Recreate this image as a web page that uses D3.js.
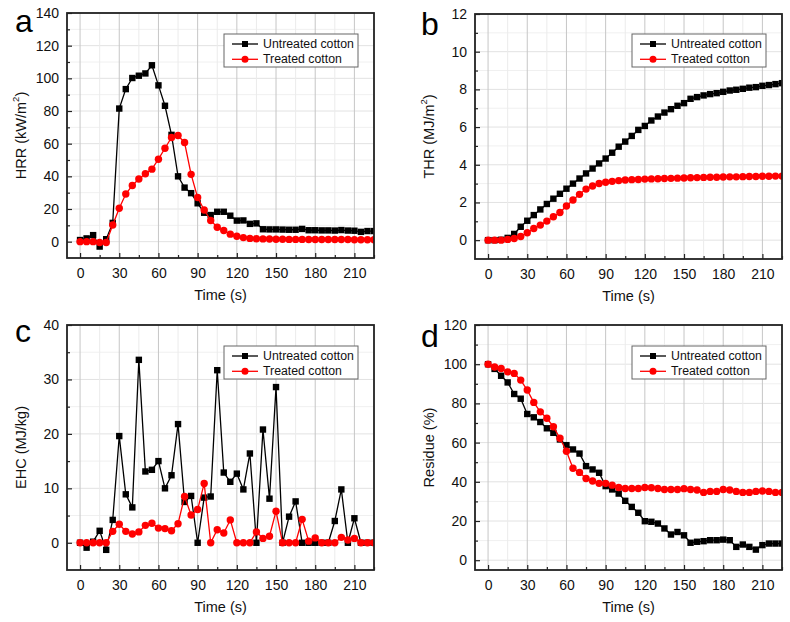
<!DOCTYPE html>
<html><head><meta charset="utf-8">
<script src="https://cdn.jsdelivr.net/npm/d3@7"></script>
<style>body{margin:0;background:#fff}svg{display:block;font-family:"Liberation Sans",Arial,sans-serif}</style>
</head><body><svg id="c" width="790" height="622"></svg>
<script>
const time = [0,5,10,15,20,25,30,35,40,45,50,55,60,65,70,75,80,85,90,95,100,105,110,115,120,125,130,135,140,145,150,155,160,165,170,175,180,185,190,195,200,205,210,215,220,225];
const seriesNames = ["Untreated cotton","Treated cotton"];
const xTicks = [0,30,60,90,120,150,180,210];
const xMinor = [15,45,75,105,135,165,195,225];

const hrrUntreated = [1,2,4,-3,1.5,11.5,81.5,93.4,100.2,101.6,103,108,95.7,83.2,65.4,40,33.1,29.7,23.5,17.7,16.3,18.3,18.3,15.9,12.9,13,10.9,11.2,7.6,7.5,7.5,7.4,7.3,7.3,7.8,7,7,6.9,6.9,6.8,7.1,6.8,6.7,6.0,6.5,6.5];
const hrrTreated = [0,0,0,-0.5,-0.5,10.2,20.5,29.2,34.4,38.4,41.6,44.4,50.5,57.2,63.8,65,60.7,41.2,27,19.4,13,8.8,6.8,4.6,3.3,2.5,2,1.8,1.7,1.6,1.5,1.5,1.4,1.4,1.4,1.3,1.3,1.3,1.3,1.3,1.3,1.3,1.2,1.2,1.2,1.2];
const thrUntreated = [0,0,0.02,0.12,0.33,0.71,1.03,1.33,1.63,1.92,2.2,2.46,2.73,3.0,3.27,3.54,3.8,4.07,4.33,4.64,4.96,5.23,5.53,5.85,6.06,6.35,6.56,6.77,6.95,7.13,7.27,7.5,7.59,7.68,7.75,7.8,7.87,7.94,7.98,8.03,8.09,8.12,8.19,8.23,8.28,8.33];
const thrTreated = [0,0,0,0.04,0.09,0.19,0.39,0.62,0.8,1.01,1.24,1.47,1.81,2.13,2.43,2.71,2.87,3.01,3.07,3.12,3.16,3.19,3.21,3.22,3.24,3.25,3.26,3.27,3.28,3.29,3.3,3.31,3.32,3.33,3.34,3.34,3.35,3.36,3.36,3.37,3.38,3.38,3.39,3.39,3.4,3.4];
const ehcUntreated = [0,-0.9,0.2,2.2,-1.3,4.2,19.6,8.9,6.5,33.6,13.1,13.4,15.0,10.0,12.4,21.8,7.5,8.6,0,8.3,8.5,31.7,12.9,11.2,12.7,9.8,16.4,0,20.8,8.1,28.6,0,4.8,7.6,0,0,0,0,0,4.0,9.8,0,4.5,0,0,0];
const ehcTreated = [0,0,0,0,0,2.1,3.4,2.1,1.6,2.0,3.2,3.6,2.7,2.6,2.2,3.5,8.5,5.1,6.1,10.9,0,2.4,1.8,4.2,0,0,0,2.0,0.8,1.2,5.8,0,0,0,4.3,0.3,0.9,0,0,0,1.0,0.5,0.8,0,0,0];
const resUntreated = [100,97.6,94.1,90.7,84.8,82.4,74.6,72.9,70.5,67.3,65,61.6,58.7,56.5,54.4,48,46.3,44.6,37.8,36.1,34,30.3,27.2,24.2,19.9,19.6,18.7,16.2,13.1,14.4,12.7,8.9,9.4,9.7,10.2,10.2,10.5,10.2,6.8,8.0,6.8,5.4,7.7,8.5,8.5,8.5];
const resTreated = [100,98.6,97.8,96.1,95.3,91.9,86.8,80.5,75.7,72.4,68.1,62.2,55.6,46.9,44.8,41.7,40.4,39.2,39.2,38.3,37.1,36.6,36.6,36.6,37.1,37,36.6,36.1,36.1,36.1,36.5,36.1,35.8,34.6,35.1,35.1,36.1,35.8,35.1,34.6,34.6,35.1,35.3,35.1,34.6,34.6];

const panels = [
  {letter:"a", lx:15, ly:32, box:[67,13,374,258], yDom:[-10,140], yTicks:[0,20,40,60,80,100,120,140], yMinor:[10,30,50,70,90,110,130], ylab:["HRR (kW/m","2",")"], ylx:22, u:hrrUntreated, t:hrrTreated, leg:[224,34]},
  {letter:"b", lx:421, ly:35, box:[475,14,782,259], yDom:[-1,12], yTicks:[0,2,4,6,8,10,12], yMinor:[1,3,5,7,9,11], ylab:["THR (MJ/m","2",")"], ylx:430, u:thrUntreated, t:thrTreated, leg:[632,34]},
  {letter:"c", lx:15, ly:342, box:[67,325,374,570], yDom:[-5,40], yTicks:[0,10,20,30,40], yMinor:[5,15,25,35], ylab:["EHC (MJ/kg)"], ylx:22, u:ehcUntreated, t:ehcTreated, leg:[224,346]},
  {letter:"d", lx:421, ly:347, box:[475,325,782,570], yDom:[-5,120], yTicks:[0,20,40,60,80,100,120], yMinor:[10,30,50,70,90,110], ylab:["Residue (%)"], ylx:430, u:resUntreated, t:resTreated, leg:[632,346]}
];

const svg = d3.select("#c");
const colors = ["#000000","#ff0000"];

panels.forEach((p,pi)=>{
  const [x0,y0,x1,y1] = p.box;
  const x = d3.scaleLinear().domain([-10,225]).range([x0,x1]);
  const y = d3.scaleLinear().domain(p.yDom).range([y1,y0]);
  const g = svg.append("g");
  // grid
  g.selectAll(".hmin").data(p.yMinor).join("line").attr("x1",x0).attr("x2",x1).attr("y1",d=>y(d)).attr("y2",d=>y(d)).attr("stroke","#f0f0f0");
  g.selectAll(".hmaj").data(p.yTicks).join("line").attr("x1",x0).attr("x2",x1).attr("y1",d=>y(d)).attr("y2",d=>y(d)).attr("stroke","#e2e2e2");
  g.selectAll(".vmin").data(xMinor).join("line").attr("y1",y0).attr("y2",y1).attr("x1",d=>x(d)).attr("x2",d=>x(d)).attr("stroke","#ebebeb");
  g.selectAll(".vmaj").data(xTicks).join("line").attr("y1",y0).attr("y2",y1).attr("x1",d=>x(d)).attr("x2",d=>x(d)).attr("stroke","#c6c6c6");
  // clip
  const cid = "clip"+pi;
  svg.append("clipPath").attr("id",cid).append("rect").attr("x",x0).attr("y",y0).attr("width",x1-x0).attr("height",y1-y0);
  const dg = g.append("g").attr("clip-path",`url(#${cid})`);
  [p.u,p.t].forEach((vals,si)=>{
    const pts = time.map((tt,i)=>[tt,vals[i]]);
    dg.append("path").datum(pts).attr("fill","none").attr("stroke",colors[si]).attr("stroke-width",1.3)
      .attr("d",d3.line().x(d=>x(d[0])).y(d=>y(d[1])));
    if(si===0){
      dg.selectAll(null).data(pts).join("rect").attr("x",d=>x(d[0])-3.2).attr("y",d=>y(d[1])-3.2).attr("width",6.4).attr("height",6.4).attr("fill","#000");
    } else {
      dg.selectAll(null).data(pts).join("circle").attr("cx",d=>x(d[0])).attr("cy",d=>y(d[1])).attr("r",3.7).attr("fill","#ff0000");
    }
  });
  // axes with inward ticks
  const xa = d3.axisBottom(x).tickValues(xTicks).tickSizeInner(-5).tickSizeOuter(0).tickPadding(10);
  const xaMin = d3.axisBottom(x).tickValues(xMinor).tickSizeInner(-3).tickSizeOuter(0).tickFormat("");
  const ya = d3.axisLeft(y).tickValues(p.yTicks).tickSizeInner(-5).tickSizeOuter(0).tickPadding(8);
  const yaMin = d3.axisLeft(y).tickValues(p.yMinor).tickSizeInner(-3).tickSizeOuter(0).tickFormat("");
  [ [xa,`translate(0,${y1})`],[xaMin,`translate(0,${y1})`],[ya,`translate(${x0},0)`],[yaMin,`translate(${x0},0)`] ].forEach(([ax,tr])=>{
    const a = g.append("g").attr("transform",tr).call(ax);
    a.select(".domain").remove();
    a.selectAll("line").attr("stroke","#222").attr("stroke-width",1.2);
    a.selectAll("text").attr("font-size",14).attr("fill","#111").attr("font-family","Liberation Sans, Arial, sans-serif");
  });
  // frame
  g.append("rect").attr("x",x0).attr("y",y0).attr("width",x1-x0).attr("height",y1-y0).attr("fill","none").attr("stroke","#222").attr("stroke-width",1.8);
  // labels
  g.append("text").attr("x",(x0+x1)/2).attr("y",y1+42).attr("text-anchor","middle").attr("font-size",14.5).attr("fill","#111").text("Time (s)");
  const yl = g.append("text").attr("transform",`translate(${p.ylx},${(y0+y1)/2}) rotate(-90)`).attr("text-anchor","middle").attr("dominant-baseline","middle").attr("font-size",14.5).attr("fill","#111");
  yl.append("tspan").text(p.ylab[0]);
  if(p.ylab.length>1){
    yl.append("tspan").attr("font-size",9.5).attr("dy",-6).text(p.ylab[1]);
    yl.append("tspan").attr("dy",6).text(p.ylab[2]);
  }
  g.append("text").attr("x",p.lx).attr("y",p.ly).attr("font-size",32).attr("fill","#000").text(p.letter);
  // legend
  const [lx,ly] = p.leg;
  const lg = g.append("g");
  lg.append("rect").attr("x",lx).attr("y",ly).attr("width",134).attr("height",33).attr("fill","#fff").attr("stroke","#666").attr("stroke-width",1);
  seriesNames.forEach((nm,i)=>{
    const cy = ly+10+i*15.3;
    lg.append("line").attr("x1",lx+8).attr("x2",lx+34).attr("y1",cy).attr("y2",cy).attr("stroke",colors[i]).attr("stroke-width",1.3);
    if(i===0) lg.append("rect").attr("x",lx+21-3).attr("y",cy-3).attr("width",6).attr("height",6).attr("fill","#000");
    else lg.append("circle").attr("cx",lx+21).attr("cy",cy).attr("r",3.5).attr("fill","#ff0000");
    lg.append("text").attr("x",lx+39).attr("y",cy).attr("dominant-baseline","central").attr("font-size",12.3).attr("fill","#111").text(nm);
  });
});
</script></body></html>
